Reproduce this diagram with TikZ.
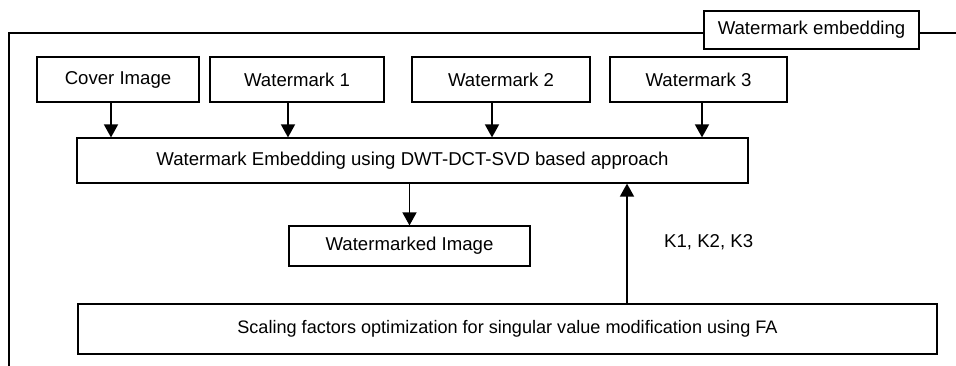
\documentclass[tikz,border=0pt]{standalone}
\usepackage{fontspec}
\setmainfont{Liberation Sans}
\usetikzlibrary{arrows.meta,calc}
\begin{document}
\begin{tikzpicture}[x=1pt,y=-1pt,
  box/.style={draw,line width=1.2pt,fill=white,rectangle,inner sep=0pt,
              minimum height=45pt,font=\fontsize{18.6}{22}\selectfont},
  arr/.style={line width=1.6pt,-{Triangle[length=13pt,width=14pt]}},
  frame/.style={line width=1.2pt}]
\useasboundingbox (0,0) rectangle (956,366);
% outer frame of the embedding stage
\coordinate (ftl) at (9,33);
\coordinate (ftr) at (956,33);
\coordinate (fbl) at (9,366);
\draw[frame] (fbl) -- (ftl) -- (ftr);
\node[box,minimum width=215pt,minimum height=38pt] (title) at (811.5,30) {Watermark embedding};
% inputs
\node[box,minimum width=162pt] (cover) at (118,79.5) {Cover Image};
\node[box,minimum width=174pt] (wm1) at (297,79.5) {Watermark 1};
\node[box,minimum width=178pt] (wm2) at (501,79.5) {Watermark 2};
\node[box,minimum width=177pt] (wm3) at (698.5,79.5) {Watermark 3};
% embedding
\node[box,minimum width=671pt] (embed) at (412.5,160.5) {Watermark Embedding using DWT-DCT-SVD based approach};
\node[box,minimum width=241pt,minimum height=40pt] (out) at (409.5,246) {Watermarked Image};
\node[box,minimum width=859pt,minimum height=50pt,font=\fontsize{18.1}{22}\selectfont] (fa) at (507.5,329) {Scaling factors optimization for singular value modification using FA};
% connectors
\draw[arr] ([xshift=-7pt]cover.south) -- ([xshift=-7pt]cover.south |- embed.north);
\draw[arr] ([xshift=-9pt]wm1.south) -- ([xshift=-9pt]wm1.south |- embed.north);
\draw[arr] ([xshift=-9pt]wm2.south) -- ([xshift=-9pt]wm2.south |- embed.north);
\draw[arr] ([xshift=3.5pt]wm3.south) -- ([xshift=3.5pt]wm3.south |- embed.north);
\draw[arr] (out.north |- embed.south) -- (out.north);
\coordinate (kx) at (627,0);
\draw[arr] (fa.north -| kx) -- (embed.south -| kx);
\node[font=\fontsize{18.6}{22}\selectfont,anchor=west,inner sep=0pt] (keys) at (664,242) {K1, K2, K3};
\end{tikzpicture}
\end{document}
